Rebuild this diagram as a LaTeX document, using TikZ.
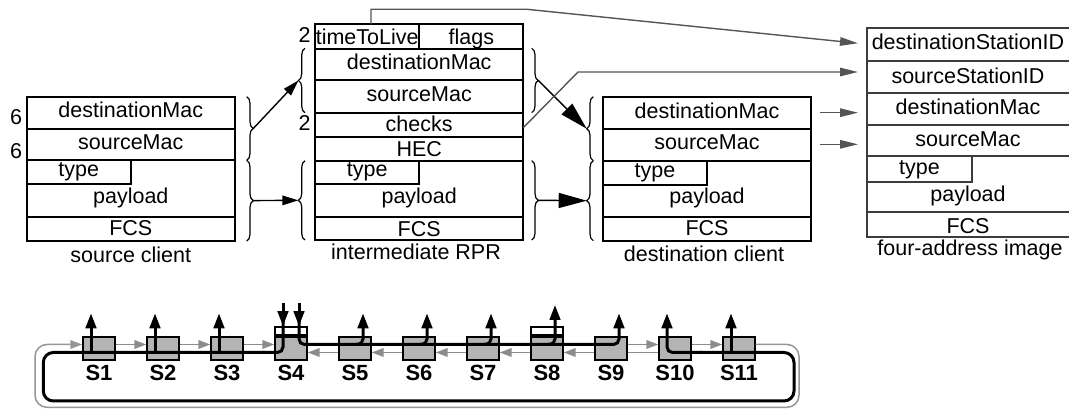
\documentclass[tikz,border=0pt]{standalone}
\usepackage{fontspec}
\setmainfont{Liberation Sans}
\usetikzlibrary{arrows.meta,decorations.pathreplacing}
\definecolor{linkgray}{RGB}{85,85,85}
\definecolor{ringgray}{RGB}{140,140,140}
\definecolor{loopgray}{RGB}{150,150,150}
\definecolor{stationfill}{RGB}{180,180,180}
\definecolor{imageline}{RGB}{60,60,60}
\begin{document}
\begin{tikzpicture}[x=1pt,y=-1pt,
  frame/.style={draw=black,line width=1.8pt},
  imgframe/.style={draw=imageline,line width=1.8pt},
  txt/.style={anchor=base,inner sep=0pt,font=\fontsize{21.5}{24}\selectfont},
  stnname/.style={anchor=base,inner sep=0pt,font=\fontsize{22}{26}\selectfont\bfseries},
  brc/.style={decorate,decoration={brace,amplitude=6.6pt},line width=1.2pt},
  fwd/.style={line width=1.4pt,-{Triangle[length=16pt,width=9.5pt]}},
  bigfwd/.style={line width=1.4pt,-{Triangle[length=28pt,width=15pt]}},
  link/.style={draw=linkgray,line width=1.4pt,-{Triangle[length=18pt,width=8.5pt]}},
  station/.style={draw=black,fill=stationfill,line width=1.8pt,minimum width=31.5pt,minimum height=23pt,inner sep=0pt},
  stationcap/.style={draw=black,fill=white,line width=1.8pt,minimum width=31.5pt,minimum height=8.4pt,inner sep=0pt},
  ringline/.style={draw=ringgray,line width=1.8pt},
  ringarrow/.style={ringline,-{Triangle[length=12pt,width=8.5pt]}},
  outerloop/.style={draw=loopgray,line width=1.5pt,rounded corners=12pt},
  flow/.style={draw=black,line width=3pt},
  flowarrow/.style={flow,-{Triangle[length=15pt,width=10.5pt]}},
]
\useasboundingbox (0,0) rectangle (1069,411);

% ---------- source client frame ----------
\draw[frame] (26.7,96.7) rectangle (235,241);
\draw[frame] (26.7,129) -- (235,129);
\draw[frame] (26.7,160.3) -- (235,160.3);
\draw[frame] (131,160.3) -- (131,184.3) -- (26.7,184.3);
\draw[frame] (26.7,216.7) -- (235,216.7);
\node[txt] (sc-dm) at (130.8,117.7) {destinationMac};
\node[txt] (sc-sm) at (130.8,150) {sourceMac};
\node[txt] (sc-ty) at (78.8,176.7) {type};
\node[txt] (sc-pl) at (130.8,203.3) {payload};
\node[txt] (sc-fcs) at (130.8,236) {FCS};
\node[txt] (sc-cap) at (130.8,262.5) {source client};
\node[txt] (sc-len1) at (16,124.3) {6};
\node[txt] (sc-len2) at (16,159) {6};

% ---------- intermediate RPR frame ----------
\draw[frame] (315,24.3) rectangle (523.3,240);
\foreach \yy in {49,80.3,112.7,136.7,160.7,216.7}
  \draw[frame] (315,\yy) -- (523.3,\yy);
\draw[frame] (419.3,24.3) -- (419.3,49);
\draw[frame] (419.3,160.7) -- (419.3,184.3) -- (315,184.3);
\node[txt] (ir-len1) at (304.7,42.7) {2};
\node[txt] (ir-ttl) at (367.2,44.3) {timeToLive};
\node[txt] (ir-flags) at (471.3,44.3) {flags};
\node[txt] (ir-dm) at (419.2,70) {destinationMac};
\node[txt] (ir-sm) at (419.2,101.7) {sourceMac};
\node[txt] (ir-chk) at (419.2,131.7) {checks};
\node[txt] (ir-len2) at (304.7,130.7) {2};
\node[txt] (ir-hec) at (419.2,156.7) {HEC};
\node[txt] (ir-ty) at (367.2,176.7) {type};
\node[txt] (ir-pl) at (419.2,203.3) {payload};
\node[txt] (ir-fcs) at (419.2,236.7) {FCS};
\node[txt] (ir-cap) at (416,260) {intermediate RPR};

% ---------- destination client frame ----------
\draw[frame] (603.3,96.7) rectangle (810.7,240.7);
\foreach \yy in {129.3,160.7,216.7}
  \draw[frame] (603.3,\yy) -- (810.7,\yy);
\draw[frame] (706.7,160.7) -- (706.7,185) -- (603.3,185);
\node[txt] (dc-dm) at (707,118.3) {destinationMac};
\node[txt] (dc-sm) at (707,150) {sourceMac};
\node[txt] (dc-ty) at (655,177.3) {type};
\node[txt] (dc-pl) at (707,203.3) {payload};
\node[txt] (dc-fcs) at (707,235.7) {FCS};
\node[txt] (dc-cap) at (704,262) {destination client};

% ---------- four-address image frame (runs off the right edge) ----------
\draw[imgframe] (1072,28.3) -- (866.7,28.3) -- (866.7,237.3) -- (1072,237.3);
\foreach \yy in {61,92.7,125,156,212.3}
  \draw[imgframe] (866.7,\yy) -- (1072,\yy);
\draw[imgframe] (972.3,156) -- (972.3,181.7) -- (866.7,181.7);
\node[txt] (fa-dsid) at (968,50) {destinationStationID};
\node[txt] (fa-ssid) at (968,83.3) {sourceStationID};
\node[txt] (fa-dm) at (968,115) {destinationMac};
\node[txt] (fa-sm) at (968,146.7) {sourceMac};
\node[txt] (fa-ty) at (919.5,175) {type};
\node[txt] (fa-pl) at (968,201.7) {payload};
\node[txt] (fa-fcs) at (968,233.3) {FCS};
\node[txt] (fa-cap) at (970,255.5) {four-address image};

% ---------- braces grouping the fields ----------
\draw[brc] (246.7,96.7) -- (246.7,160.3);
\draw[brc] (246.7,160.3) -- (246.7,241);
\draw[brc] (305,112.7) -- (305,48.3);
\draw[brc] (305,240) -- (305,160.7);
\draw[brc] (531.7,48.3) -- (531.7,112.7);
\draw[brc] (531.7,160.7) -- (531.7,240);
\draw[brc] (593.3,160.7) -- (593.3,96.7);
\draw[brc] (593.3,240.7) -- (593.3,160.7);
\coordinate (sc-hdr) at (253.3,128.5);
\coordinate (sc-body) at (253.3,200.6);
\coordinate (ir-hdr-in) at (298.4,80.5);
\coordinate (ir-body-in) at (298.4,200.3);
\coordinate (ir-hdr-out) at (538.3,80.5);
\coordinate (ir-body-out) at (538.3,200.3);
\coordinate (dc-hdr) at (586.7,128.7);
\coordinate (dc-body) at (586.7,200.7);

\draw[fwd] (sc-hdr) -- (ir-hdr-in);
\draw[fwd] (sc-body) -- (ir-body-in);
\draw[bigfwd] (ir-hdr-out) -- (dc-hdr);
\draw[bigfwd] (ir-body-out) -- (dc-body);

% ---------- fields copied into the four-address image ----------
\coordinate (ttl-top) at (371,24.3);
\coordinate (chk-end) at (523.3,127.7);
\coordinate (dc-dm-end) at (820,112.7);
\coordinate (dc-sm-end) at (820,144.3);
\coordinate (fa-dsid-in) at (858,43.3);
\coordinate (fa-ssid-in) at (858,72);
\coordinate (fa-dm-in) at (858,112.7);
\coordinate (fa-sm-in) at (858,144.3);
\draw[link] (ttl-top) -- (371,9.3) -- (527,9.3) -- (fa-dsid-in);
\draw[link] (chk-end) -- (578,72) -- (fa-ssid-in);
\draw[link] (dc-dm-end) -- (fa-dm-in);
\draw[link] (dc-sm-end) -- (fa-sm-in);

% ---------- ring of stations ----------
\foreach \i in {1,...,11} {
  \node[station] (s\i) at ({35+64*\i},348.7) {};
  \node[stnname] (s\i-name) at ({35+64*\i},381) {S\i};
}
\node[stationcap,anchor=south] (s4cap) at (s4.north) {};
\node[stationcap,anchor=south] (s8cap) at (s8.north) {};

% grey ringlet
\draw[outerloop,-{Triangle[length=12pt,width=8.5pt]}]
  ([yshift=4.2pt]s11.east) -- (799,344.5) -- (799,407.3) -- (35,407.3) -- (35,344.5) -- ([yshift=4.2pt]s1.west);
\foreach \a/\b in {1/2,2/3,3/4,9/10,10/11}
  \draw[ringarrow] ([yshift=4.2pt]s\a.east) -- ([yshift=4.2pt]s\b.west);
\foreach \a/\b in {5/4,6/5,7/6,8/7,9/8}
  \draw[ringarrow] ([yshift=-3.8pt]s\a.west) -- ([yshift=-3.8pt]s\b.east);
\draw[ringline] ([yshift=-3.8pt]s10.west) -- ([yshift=-3.8pt]s9.east);

% black traffic paths
\coordinate (inA) at (283,303);
\coordinate (inB) at (299,303);
\draw[flowarrow] (inA) -- (inA |- s4cap.north);
\draw[flowarrow] (inB) -- (inB |- s4cap.north);
\draw[flow,rounded corners=5.5pt] (283,318) -- (283,352.5) -- (262,352.5);
\draw[flow,rounded corners=10pt] (264,352.5) -- (43.3,352.5) -- (43.3,401) -- (794,401) -- (794,352.5) -- (700,352.5);
\draw[flowarrow,rounded corners=5.5pt] (702,352.5) -- (667,352.5) -- (667,313.3);
\draw[flowarrow,rounded corners=5.5pt] (299,318) -- (299,344.5) -- (619,344.5) -- (619,313.3);
\foreach \i in {5,6,7}
  \draw[flowarrow,rounded corners=5.5pt] ({35+64*\i},344.5) -- ({43+64*\i},344.5) -- ({43+64*\i},313.3);
\draw[flowarrow,rounded corners=5.5pt] (547,344.5) -- (555,344.5) -- (555,305);
\foreach \i in {1,2,3}
  \draw[flowarrow] ({27+64*\i},352.5) -- ({27+64*\i},313.3);
\draw[flowarrow] (731,352.5) -- (731,313.3);
\end{tikzpicture}
\end{document}
